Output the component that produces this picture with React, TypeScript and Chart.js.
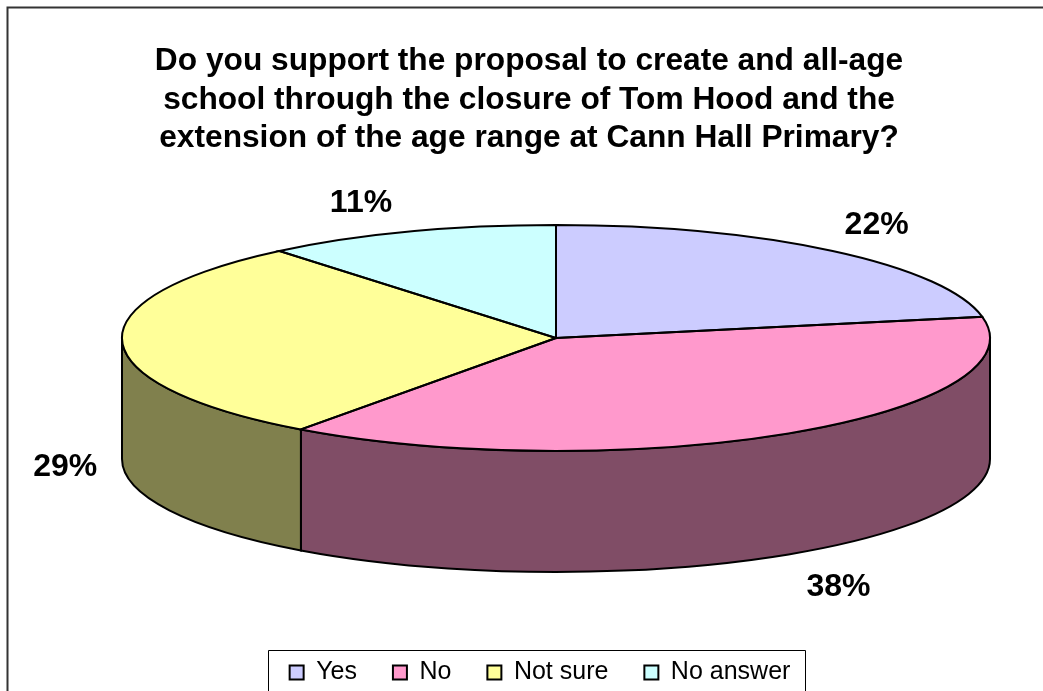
import React, { useEffect, useRef } from "react";
import { Chart, registerables, DoughnutController } from "chart.js";

Chart.register(...registerables);

const TITLE_LINES = [
  "Do you support the proposal to create and all-age",
  "school through the closure of Tom Hood and the",
  "extension of the age range at Cann Hall Primary?",
];
const CATEGORIES = ["Yes", "No", "Not sure", "No answer"];
const VALUES = [22, 38, 29, 11];
const TOP_COLORS = ["#CCCCFF", "#FF99CC", "#FFFF99", "#CCFFFF"];
const SIDE_COLORS = ["#666680", "#804D66", "#80804D", "#668080"];
const LABEL_NUDGE_X = [-6, 0, -7, 2];
const LABEL_NUDGE_Y = [2, 2, 3, 5];

const WIDTH = 1043;
const HEIGHT = 691;
const CENTER_X = 556;
const CENTER_Y = 338;
const RADIUS = 434;
const TILT = 113 / 434;
const DEPTH = 121;
const FONT = '"Liberation Sans", Arial, sans-serif';

const pie3d = {
  id: "pie3d",
  afterLayout(chart: any) {
    const legend = chart.legend;
    legend.left += 11;
    legend.right += 11;
  },
  beforeDraw(chart: any) {
    const ctx = chart.ctx;
    ctx.save();
    ctx.fillStyle = "#fff";
    ctx.fillRect(0, 0, WIDTH, HEIGHT);
    ctx.strokeStyle = "#333";
    ctx.lineWidth = 2;
    ctx.beginPath();
    ctx.moveTo(7.5, HEIGHT + 2);
    ctx.lineTo(7.5, 7.5);
    ctx.lineTo(WIDTH + 2, 7.5);
    ctx.stroke();
    ctx.restore();
  },
  beforeDatasetsDraw(chart: any) {
    const ctx = chart.ctx;
    const arcs = chart.getDatasetMeta(0).data;
    ctx.save();
    ctx.lineWidth = 2;
    ctx.strokeStyle = "#000";
    arcs.forEach((arc: any, i: number) => {
      const a0 = Math.max(arc.startAngle, 0);
      const a1 = Math.min(arc.endAngle, Math.PI);
      if (a1 <= a0) return;
      ctx.beginPath();
      ctx.ellipse(CENTER_X, CENTER_Y, RADIUS, RADIUS * TILT, 0, a0, a1);
      ctx.lineTo(
        CENTER_X + RADIUS * Math.cos(a1),
        CENTER_Y + RADIUS * TILT * Math.sin(a1) + DEPTH
      );
      ctx.ellipse(CENTER_X, CENTER_Y + DEPTH, RADIUS, RADIUS * TILT, 0, a1, a0, true);
      ctx.closePath();
      ctx.fillStyle = SIDE_COLORS[i];
      ctx.fill();
      ctx.stroke();
    });
    ctx.restore();
    const first = arcs[0];
    ctx.save();
    ctx.translate(CENTER_X, CENTER_Y);
    ctx.scale(1, TILT);
    ctx.translate(-first.x, -first.y);
  },
  afterDatasetsDraw(chart: any) {
    const ctx = chart.ctx;
    ctx.restore();
    const arcs = chart.getDatasetMeta(0).data;
    ctx.save();
    ctx.lineWidth = 2;
    ctx.strokeStyle = "#000";
    arcs.forEach((arc: any) => {
      ctx.beginPath();
      ctx.moveTo(CENTER_X, CENTER_Y);
      ctx.ellipse(CENTER_X, CENTER_Y, RADIUS, RADIUS * TILT, 0, arc.startAngle, arc.endAngle);
      ctx.closePath();
      ctx.stroke();
    });
    ctx.fillStyle = "#000";
    ctx.font = `bold 32px ${FONT}`;
    ctx.textAlign = "center";
    ctx.textBaseline = "middle";
    arcs.forEach((arc: any, i: number) => {
      const mid = (arc.startAngle + arc.endAngle) / 2;
      const cos = Math.cos(mid);
      const sin = Math.sin(mid);
      const front = sin > 0 || cos < -0.9 ? DEPTH : 0;
      const x = CENTER_X + RADIUS * cos + Math.sign(cos) * 50 + LABEL_NUDGE_X[i];
      const y = CENTER_Y + RADIUS * TILT * sin + front + sin * 36 + LABEL_NUDGE_Y[i];
      ctx.fillText(`${VALUES[i]}%`, x, y);
    });
    ctx.restore();
  },
  afterDraw(chart: any) {
    const ctx = chart.ctx;
    const boxes = chart.legend.legendHitBoxes;
    const last = boxes[boxes.length - 1];
    const midY = boxes[0].top + boxes[0].height / 2;
    const left = boxes[0].left - 22;
    const right = last.left + last.width + 15;
    const top = midY - 23;
    ctx.save();
    ctx.strokeStyle = "#000";
    ctx.lineWidth = 1;
    ctx.beginPath();
    ctx.moveTo(Math.round(left) + 0.5, HEIGHT + 2);
    ctx.lineTo(Math.round(left) + 0.5, Math.round(top) + 0.5);
    ctx.lineTo(Math.round(right) + 0.5, Math.round(top) + 0.5);
    ctx.lineTo(Math.round(right) + 0.5, HEIGHT + 2);
    ctx.stroke();
    ctx.restore();
  },
};

export default function App() {
  const ref = useRef<HTMLCanvasElement | null>(null);
  useEffect(() => {
    const baseLabels = (DoughnutController as any).overrides.plugins.legend.labels.generateLabels;
    const chart = new Chart(ref.current as HTMLCanvasElement, {
      type: "pie",
      data: {
        labels: CATEGORIES,
        datasets: [
          {
            data: VALUES,
            backgroundColor: TOP_COLORS,
            borderWidth: 0,
            radius: RADIUS,
            clip: false,
          } as any,
        ],
      },
      options: {
        responsive: false,
        animation: false,
        rotation: 0,
        events: [],
        layout: { padding: { left: 15, right: 0, top: 0, bottom: -4 } },
        plugins: {
          tooltip: { enabled: false },
          title: {
            display: true,
            text: TITLE_LINES,
            color: "#000",
            font: { family: FONT, size: 31.7, weight: "bold", lineHeight: 1.22 },
            padding: { top: 42, bottom: 10 },
          },
          legend: {
            display: true,
            position: "bottom",
            labels: {
              color: "#000",
              font: { family: FONT, size: 25 },
              boxWidth: 14,
              boxHeight: 14,
              padding: 36,
              generateLabels: (c: any) =>
                baseLabels(c).map((l: any) => ({ ...l, strokeStyle: "#000", lineWidth: 2 })),
            },
          },
        },
      },
      plugins: [pie3d as any],
    });
    return () => chart.destroy();
  }, []);
  return (
    <div style={{ position: "absolute", left: 0, top: 0, width: WIDTH, height: HEIGHT, overflow: "hidden", background: "#fff" }}>
      <canvas ref={ref} width={WIDTH} height={HEIGHT} style={{ display: "block" }} />
    </div>
  );
}
